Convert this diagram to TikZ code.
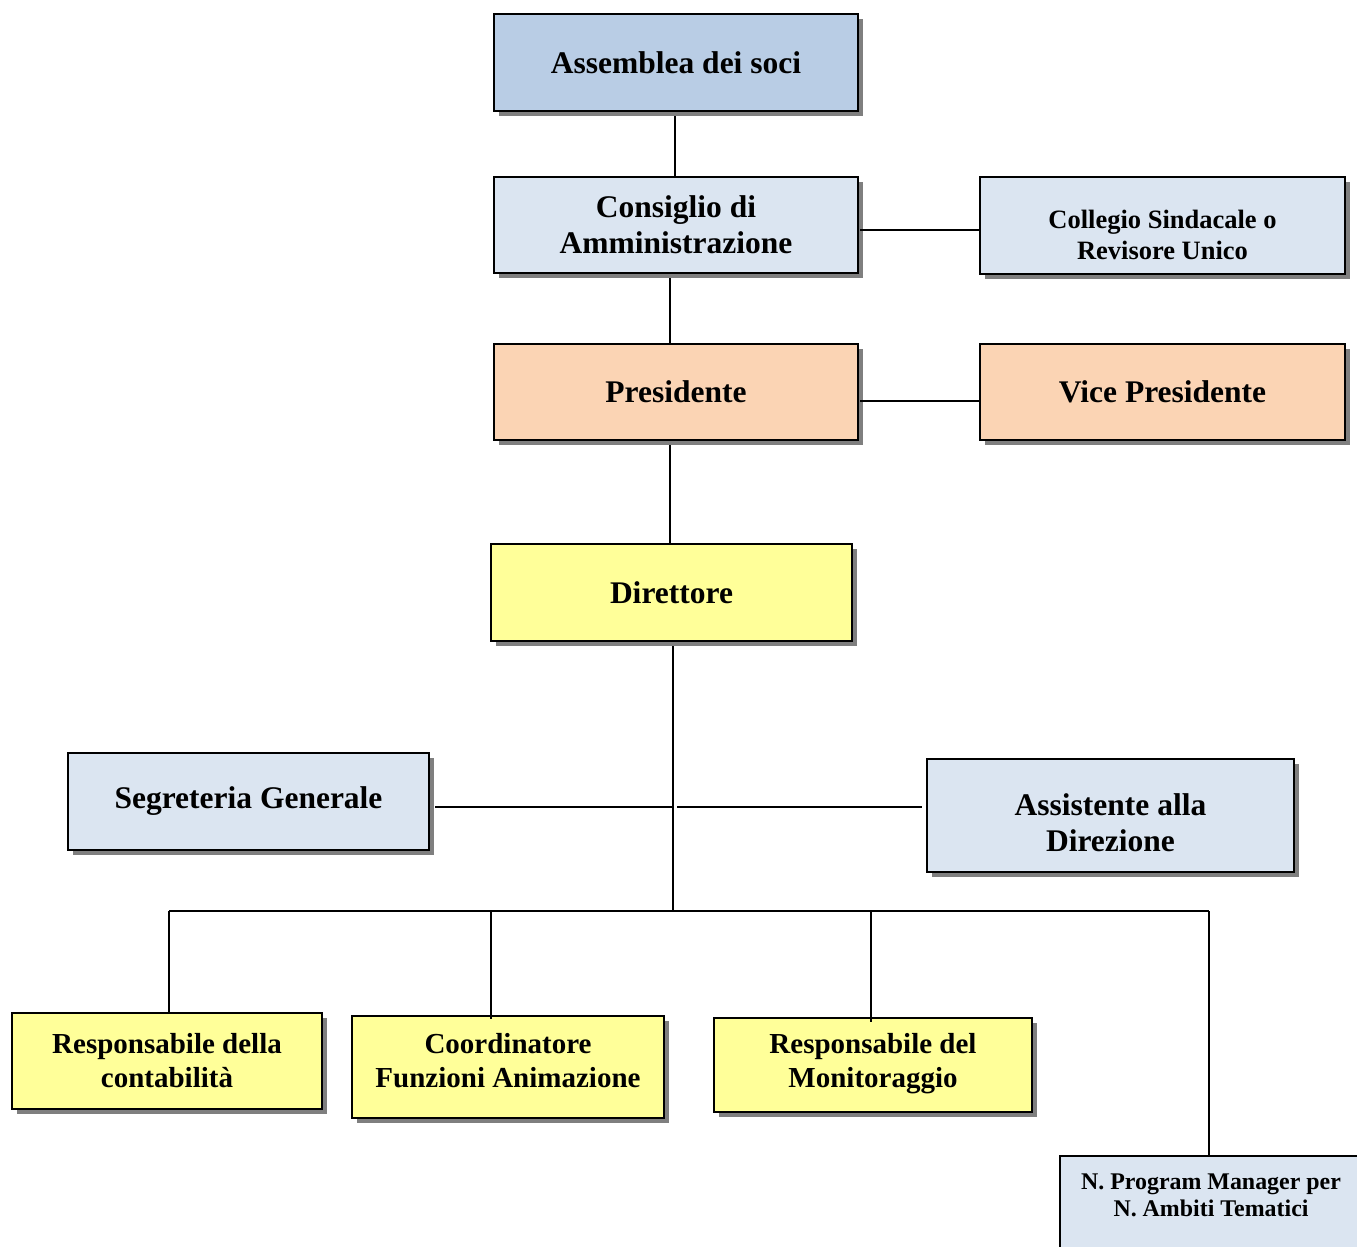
\documentclass[tikz,border=0pt]{standalone}
\usepackage{fontspec}
\setmainfont{Liberation Serif}
\usetikzlibrary{shadows}
\definecolor{blueA}{HTML}{B9CDE5}
\definecolor{blueB}{HTML}{DBE5F1}
\definecolor{peach}{HTML}{FBD4B4}
\definecolor{yel}{HTML}{FFFF99}
\definecolor{shad}{HTML}{7F7F7F}
\begin{document}
\begin{tikzpicture}[x=1pt,y=-1pt,
  box/.style={draw=black, line width=2.3pt, rectangle, inner sep=0pt, align=center,
    drop shadow={shadow xshift=5pt, shadow yshift=-5pt, fill=shad, opacity=1}},
  big/.style={font=\fontsize{31.5}{36}\selectfont\bfseries},
  mid/.style={font=\fontsize{29}{34}\selectfont\bfseries},
  small/.style={font=\fontsize{26.5}{31}\selectfont\bfseries},
  tiny/.style={font=\fontsize{23.9}{27}\selectfont\bfseries},
  txt/.style={inner sep=0pt, align=center},
  link/.style={draw=black, line width=2pt}]
\useasboundingbox (0,0) rectangle (1357,1247);
\clip (0,0) rectangle (1357,1247);

% boxes
\node[box, big, fill=blueA, minimum width=364pt, minimum height=97pt] (ass) at (676,62.5) {Assemblea dei soci};
\node[box, big, fill=blueB, minimum width=364pt, minimum height=96pt] (cda) at (676,225) {Consiglio di\\Amministrazione};
\node[box, fill=blueB, minimum width=365pt, minimum height=97pt] (coll) at (1162.5,225.5) {};
\node[txt, small] (colltxt) at (1162.5,235) {Collegio Sindacale o\\Revisore Unico};
\node[box, big, fill=peach, minimum width=364pt, minimum height=96pt] (pres) at (676,392) {Presidente};
\node[box, big, fill=peach, minimum width=365pt, minimum height=96pt] (vice) at (1162.5,392) {Vice Presidente};
\node[box, big, fill=yel, minimum width=361pt, minimum height=97pt] (dir) at (671.5,592.5) {Direttore};
\node[box, big, fill=blueB, minimum width=361pt, minimum height=97pt] (seg) at (248.5,801.5) {Segreteria Generale};
\node[box, fill=blueB, minimum width=367pt, minimum height=113pt] (assd) at (1110.5,815.5) {};
\node[txt, big] (assdtxt) at (1110.5,823) {Assistente alla\\Direzione};
\node[box, mid, fill=yel, minimum width=310pt, minimum height=96pt] (cont) at (167,1061) {Responsabile della\\contabilit\`a};
\node[box, fill=yel, minimum width=312pt, minimum height=102pt] (coord) at (508,1067) {};
\node[txt, mid] (coordtxt) at (508,1061) {Coordinatore\\Funzioni Animazione};
\node[box, fill=yel, minimum width=318pt, minimum height=94pt] (mon) at (873,1065) {};
\node[txt, mid] (montxt) at (873,1064) {Responsabile del\\Monitoraggio};
\node[box, fill=blueB, minimum width=304pt, minimum height=140pt] (pm) at (1212,1226) {};
\node[txt, tiny] (pmtxt) at (1211,1195) {N. Program Manager per\\N. Ambiti Tematici};

% connectors
\coordinate (a1) at (675,116);
\coordinate (c1) at (670,278);
\coordinate (p1) at (670,445);
\coordinate (d1) at (673,646);
\coordinate (bus) at (673,911);
\coordinate (hl) at (673,807);
\coordinate (hr) at (677,807);
\coordinate (hre) at (922,807);
\coordinate (b1) at (169,911);
\coordinate (b2) at (491,911);
\coordinate (b3) at (871,911);
\coordinate (b4) at (1209,911);

\draw[link] (a1) -- (a1 |- cda.north);
\draw[link] (c1) -- (c1 |- pres.north);
\draw[link] (p1) -- (p1 |- dir.north);
\draw[link] ([xshift=1pt]cda.east |- 0,230) -- (coll.west |- 0,230);
\draw[link] ([xshift=1pt]pres.east |- 0,401) -- (vice.west |- 0,401);
\draw[link] (d1) -- (bus);
\draw[link] ([xshift=5pt]seg.east |- hl) -- (hl);
\draw[link] (hr) -- (hre);
\draw[link] (b1) -- (b4);
\draw[link] (b1) -- (b1 |- cont.north);
\draw[link] (b2) -- ([yshift=-4pt]b2 |- coord.north);
\draw[link] (b3) -- ([yshift=-5pt]b3 |- mon.north);
\draw[link] (b4) -- (b4 |- pm.north);
\end{tikzpicture}
\end{document}
